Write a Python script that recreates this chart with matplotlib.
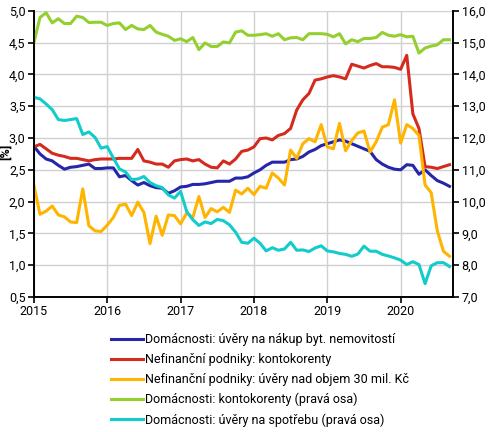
import matplotlib
matplotlib.use("Agg")
import matplotlib.pyplot as plt
from matplotlib.ticker import FuncFormatter, MultipleLocator

plt.rcParams["font.family"] = ["Roboto", "DejaVu Sans"]
plt.rcParams["font.size"] = 9

# monthly data, Jan 2015 .. Sep 2020 (month index 0..68)
years = ["2015", "2016", "2017", "2018", "2019", "2020"]

housing = [2.87, 2.75, 2.67, 2.64, 2.57, 2.51, 2.54, 2.55, 2.57, 2.59, 2.52, 2.52,
           2.53, 2.53, 2.39, 2.41, 2.33, 2.26, 2.30, 2.25, 2.22, 2.21, 2.13, 2.17,
           2.23, 2.24, 2.27, 2.27, 2.28, 2.30, 2.32, 2.32, 2.32, 2.37, 2.37, 2.39,
           2.45, 2.50, 2.57, 2.62, 2.62, 2.62, 2.66, 2.67, 2.71, 2.78, 2.82,
           2.88, 2.91, 2.94, 2.97, 2.95, 2.91, 2.87, 2.83, 2.79,
           2.66, 2.59, 2.54, 2.51, 2.50, 2.58, 2.57, 2.43, 2.50, 2.41, 2.33, 2.29, 2.24]

nfc_overdraft = [2.86, 2.90, 2.83, 2.76, 2.73, 2.71, 2.68, 2.68, 2.66, 2.64, 2.66, 2.67,
                 2.67, 2.67, 2.68, 2.68, 2.68, 2.82, 2.64, 2.62, 2.59, 2.59, 2.54, 2.64,
                 2.66, 2.67, 2.64, 2.66, 2.59, 2.54, 2.53, 2.64, 2.59, 2.67, 2.79, 2.81,
                 2.86, 2.99, 3.00, 2.97, 3.04, 3.07, 3.15, 3.44, 3.60, 3.70, 3.91,
                 3.93, 3.96, 3.98, 3.96, 3.93, 4.16, 4.13, 4.10, 4.14,
                 4.17, 4.12, 4.12, 4.11, 4.08, 4.30, 3.38, 3.15, 2.55, 2.54, 2.52, 2.55, 2.58]

nfc_large = [2.26, 1.80, 1.85, 1.93, 1.79, 1.76, 1.68, 1.67, 2.20, 1.62, 1.54, 1.53,
             1.63, 1.75, 1.94, 1.96, 1.78, 1.99, 1.83, 1.34, 1.77, 1.47, 1.79, 1.78,
             1.65, 1.82, 1.75, 2.08, 1.75, 1.89, 1.84, 1.91, 1.83, 2.18, 2.12, 2.21,
             2.11, 2.24, 2.21, 2.45, 2.37, 2.26, 2.81, 2.68, 2.91, 2.99, 2.94,
             3.21, 2.86, 2.83, 3.23, 2.80, 2.96, 3.08, 3.11, 2.78,
             2.94, 3.17, 3.21, 3.60, 2.92, 3.21, 3.15, 3.04, 2.26, 2.14, 1.54, 1.22, 1.14]

hh_overdraft = [15.00, 15.79, 15.94, 15.62, 15.75, 15.60, 15.60, 15.83, 15.79, 15.63, 15.64, 15.64,
                15.54, 15.60, 15.62, 15.41, 15.54, 15.43, 15.41, 15.54, 15.33, 15.26, 15.20, 15.07,
                15.12, 15.03, 15.16, 14.78, 14.99, 14.88, 14.88, 15.02, 14.99, 15.33, 15.37, 15.23,
                15.23, 15.25, 15.28, 15.20, 15.28, 15.09, 15.15, 15.16, 15.09, 15.28, 15.28,
                15.28, 15.26, 15.18, 15.28, 14.96, 15.09, 15.03, 15.13, 15.13,
                15.16, 15.32, 15.23, 15.20, 15.25, 15.18, 15.20, 14.67, 14.83, 14.89, 14.93, 15.09, 15.09]

hh_consumer = [13.28, 13.23, 13.07, 12.89, 12.58, 12.55, 12.58, 12.61, 12.11, 12.19, 12.02, 11.68,
               11.73, 11.37, 11.03, 10.93, 10.69, 10.71, 10.79, 10.60, 10.50, 10.44, 10.21, 10.11,
               10.32, 9.69, 9.43, 9.25, 9.36, 9.31, 9.44, 9.40, 9.27, 9.04, 8.72, 8.69,
               8.85, 8.69, 8.45, 8.55, 8.47, 8.51, 8.72, 8.47, 8.48, 8.43, 8.54,
               8.61, 8.45, 8.42, 8.37, 8.34, 8.28, 8.35, 8.60, 8.44,
               8.44, 8.34, 8.29, 8.23, 8.16, 8.02, 8.11, 8.02, 7.42, 7.98, 8.08, 8.08, 7.96]

labels = ["Domácnosti: úvěry na nákup byt. nemovitostí",
          "Nefinanční podniky: kontokorenty",
          "Nefinanční podniky: úvěry nad objem 30 mil. Kč",
          "Domácnosti: kontokorenty (pravá osa)",
          "Domácnosti: úvěry na spotřebu (pravá osa)"]
colors = ["#2626a8", "#d52b1e", "#ffb400", "#94cf30", "#12cccc"]

months = list(range(len(housing)))
comma = FuncFormatter(lambda v, p: ("%.1f" % v).replace(".", ","))

fig = plt.figure(figsize=(4.91, 4.32), dpi=100)
ax = fig.add_axes([0.069, 0.3125, 0.854, 0.6625])
ax2 = ax.twinx()

lines = []
for data, c, lab in zip([housing, nfc_overdraft, nfc_large], colors[:3], labels[:3]):
    lines += ax.plot(months, data, color=c, lw=2.2, label=lab)
for data, c, lab in zip([hh_overdraft, hh_consumer], colors[3:], labels[3:]):
    lines += ax2.plot(months, data, color=c, lw=2.2, label=lab)

ax.set_xlim(0, 68.6)
ax.set_ylim(0.5, 5.0)
ax2.set_ylim(7.0, 16.0)
ax.set_xticks([12 * i for i in range(len(years))])
ax.set_xticklabels(years)
ax.yaxis.set_major_locator(MultipleLocator(0.5))
ax2.yaxis.set_major_locator(MultipleLocator(1.0))
ax.yaxis.set_major_formatter(comma)
ax2.yaxis.set_major_formatter(comma)
ax.grid(True, color="#d0d0d0", lw=1)
ax.set_axisbelow(True)
ax.set_ylabel("[%]", fontweight="bold")
ax.yaxis.set_label_coords(-0.052, 0.507)

for a in (ax, ax2):
    a.spines["top"].set_visible(False)
    for s in ("left", "right", "bottom"):
        a.spines[s].set_linewidth(1.2)
    a.tick_params(length=4, width=1.2, pad=2, labelsize=9)

fig.legend(lines, labels, loc="upper left", bbox_to_anchor=(0.215, 0.24),
           frameon=False, handlelength=2.6, handletextpad=0.15, labelspacing=0.55,
           borderaxespad=0, fontsize=9)

fig.savefig("out.png", dpi=100)
